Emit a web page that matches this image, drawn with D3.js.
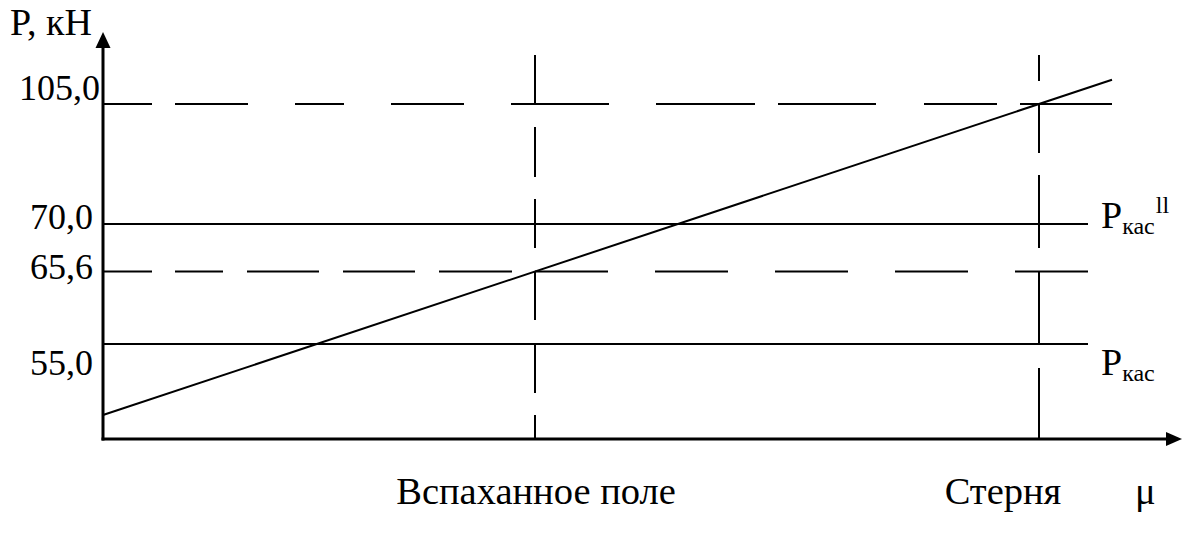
<!DOCTYPE html>
<html>
<head>
<meta charset="utf-8">
<script src="https://cdn.jsdelivr.net/npm/d3@7"></script>
<style>
  body { margin: 0; background: #fff; }
  svg text { font-family: "Liberation Serif", "Times New Roman", "DejaVu Serif", serif; fill: #000; }
</style>
</head>
<body>
<div id="chart"></div>
<script>
// values
var pTicks = [55.0, 65.6, 70.0, 105.0];
var pTickLabels = ["55,0", "65,6", "70,0", "105,0"];
var fieldNames = ["Вспаханное поле", "Стерня"];
var fieldMu = [0.5, 0.8];
var fieldP = [65.6, 105.0];
var limitP = [70.0, 55.0];
var limitSup = ["ll", ""];

var width = 1183, height = 534;

var svg = d3.select("#chart").append("svg")
    .attr("width", width)
    .attr("height", height)
    .attr("font-family", "'Liberation Serif', 'Times New Roman', 'DejaVu Serif', serif");

// the drawing is a sketch, not to scale: y is piecewise
var x = d3.scaleLinear().domain(fieldMu).range([535, 1039]);
var y = d3.scaleLinear()
    .domain([40, 55.0, 65.6, 70.0, 105.0, 126])
    .range([439, 344, 271.5, 224, 104, 32]);

var x0 = 103, xRefEnd = 1088, xSlopeEnd = 1112, xAxisEnd = 1182;
var yAxis0 = 439, yTop = 32, vTop = 55;
var lw = 2;

// horizontal reference lines
var hDash = {
    105: "49,23,73,47,49,47,73,47,98,47,99,23,98,48,73,23,92",
    65.6: "49,23,48,24,72,24,72,24,73,23,73,47,73,47,73,47,73,47,73"
};
fieldP.forEach(function (p) {
    svg.append("line")
        .attr("x1", x0).attr("x2", p == 105 ? xSlopeEnd : xRefEnd)
        .attr("y1", y(p)).attr("y2", y(p))
        .attr("stroke", "#000").attr("stroke-width", lw)
        .attr("stroke-dasharray", hDash[p]);
});
limitP.forEach(function (p) {
    svg.append("line")
        .attr("x1", x0).attr("x2", xRefEnd)
        .attr("y1", y(p)).attr("y2", y(p))
        .attr("stroke", "#000").attr("stroke-width", lw);
});

// vertical dashed lines for the two fields
var vDash = ["48,24,50,22,49,24,48,24,49,22,25", "26,22,50,22,73,24,72,24,71"];
fieldMu.forEach(function (m, i) {
    svg.append("line")
        .attr("x1", x(m)).attr("x2", x(m))
        .attr("y1", vTop).attr("y2", yAxis0)
        .attr("stroke", "#000").attr("stroke-width", lw)
        .attr("stroke-dasharray", vDash[i]);
});

// traction line through the two field points, carried to the edges
var pA = [x(fieldMu[0]), y(fieldP[0])], pB = [x(fieldMu[1]), y(fieldP[1])];
var k = (pB[1] - pA[1]) / (pB[0] - pA[0]);
svg.append("path")
    .datum([[x0, pA[1] + k * (x0 - pA[0])], [xSlopeEnd, pA[1] + k * (xSlopeEnd - pA[0])]])
    .attr("d", d3.line())
    .attr("fill", "none")
    .attr("stroke", "#000").attr("stroke-width", lw);

// axes with arrows
svg.append("line")
    .attr("x1", x0).attr("x2", x0).attr("y1", yAxis0 + 1.5).attr("y2", yTop + 12)
    .attr("stroke", "#000").attr("stroke-width", 3);
svg.append("line")
    .attr("x1", x0 - 1.5).attr("x2", xAxisEnd - 12).attr("y1", yAxis0).attr("y2", yAxis0)
    .attr("stroke", "#000").attr("stroke-width", 3);
svg.append("path")
    .attr("d", "M" + x0 + "," + yTop + "L" + (x0 - 7.5) + "," + (yTop + 16) + "L" + (x0 + 7.5) + "," + (yTop + 16) + "Z")
    .attr("fill", "#000");
svg.append("path")
    .attr("d", "M" + xAxisEnd + "," + yAxis0 + "L" + (xAxisEnd - 16) + "," + (yAxis0 - 7) + "L" + (xAxisEnd - 16) + "," + (yAxis0 + 7) + "Z")
    .attr("fill", "#000");

// tick labels
var tickDy = [31, 7, 5, -4];
svg.selectAll(".tick-label")
    .data(pTicks)
    .enter().append("text")
    .attr("class", "tick-label")
    .attr("x", function (d) { return d == 105 ? 100 : 93; })
    .attr("y", function (d, i) { return y(d) + tickDy[i]; })
    .attr("text-anchor", "end")
    .attr("font-size", 36)
    .text(function (d, i) { return pTickLabels[i]; });

svg.append("text")
    .attr("x", 10).attr("y", 35)
    .attr("font-size", 38)
    .text("P, кН");

// limit labels on the right
var limitDy = [4, 31];
limitP.forEach(function (p, i) {
    var t = svg.append("text")
        .attr("x", 1101)
        .attr("y", y(p) + limitDy[i])
        .attr("font-size", 38);
    t.append("tspan").text("P");
    t.append("tspan").attr("font-size", 24).attr("dy", 6).text("кас");
    if (limitSup[i]) {
        t.append("tspan").attr("font-size", 24).attr("dx", 1).attr("dy", -21).text(limitSup[i]);
    }
});

// field names under the axis
var fieldDx = [1, -36];
svg.selectAll(".field-label")
    .data(fieldNames)
    .enter().append("text")
    .attr("class", "field-label")
    .attr("x", function (d, i) { return x(fieldMu[i]) + fieldDx[i]; })
    .attr("y", 504)
    .attr("text-anchor", "middle")
    .attr("font-size", 38.5)
    .text(function (d) { return d; });

svg.append("text")
    .attr("x", 1135).attr("y", 504)
    .attr("font-size", 38.5)
    .text("μ");
</script>
</body>
</html>
